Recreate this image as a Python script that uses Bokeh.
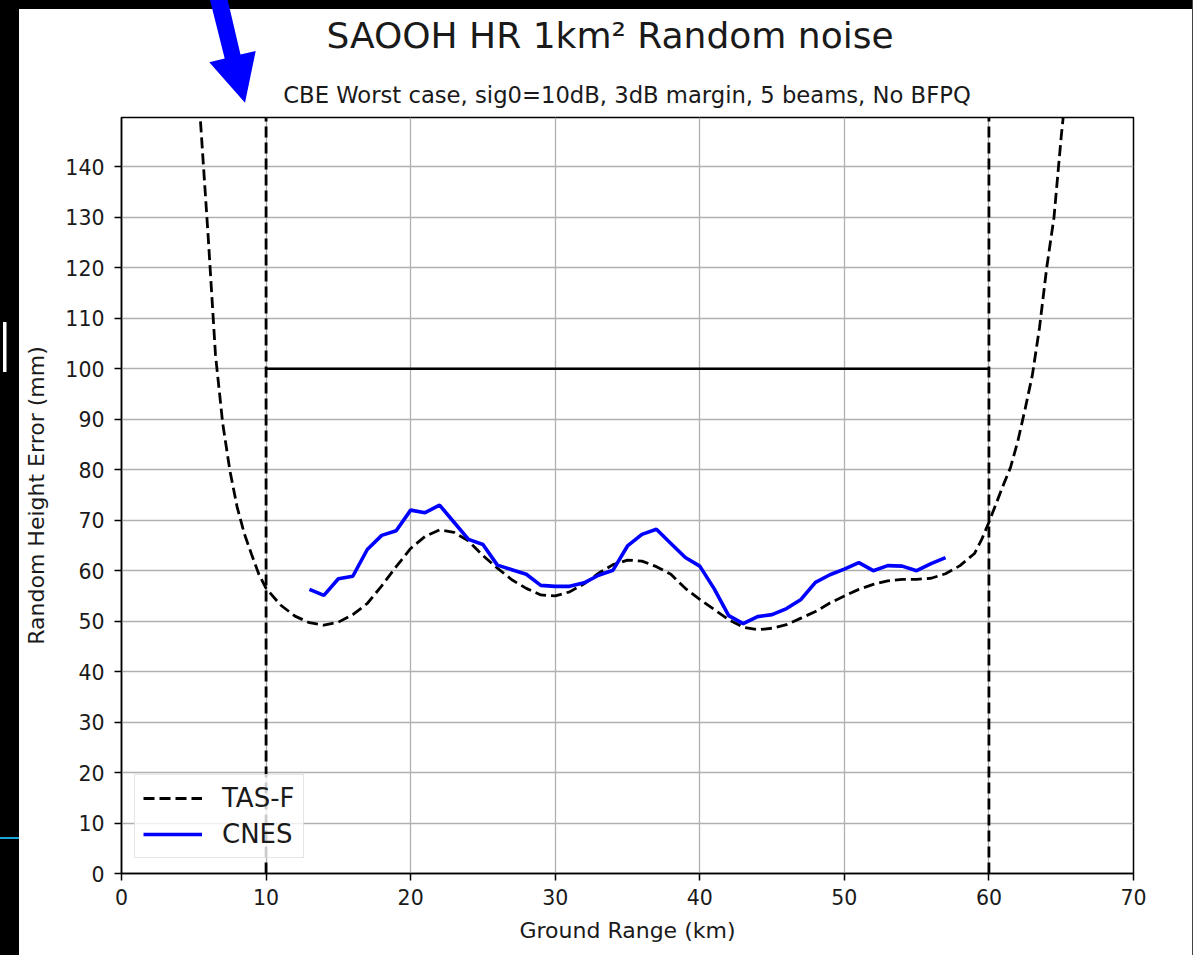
from bokeh.plotting import figure
from bokeh.layouts import column
from bokeh.models import Range1d, FixedTicker, Legend, LegendItem, Div
from bokeh.embed import file_html
from bokeh.resources import INLINE

# TAS-F random height error model (ground range in km, error in mm)
tas_range_km = [5.0, 5.5, 6.0, 6.5, 7.0, 7.5, 8.0, 8.5, 9.0, 9.5,
                10, 11, 12, 13, 14, 15, 16, 17, 18, 19,
                20, 21, 22, 23, 24, 25, 26, 27, 28, 29,
                30, 31, 32, 33, 34, 35, 36, 37, 38, 39,
                40, 41, 42, 43, 44, 45, 46, 47, 48, 49,
                50, 51, 52, 53, 54, 55, 56, 57, 58, 59,
                59.5, 60, 60.5, 61, 61.5, 62, 62.5, 63, 63.5, 64,
                64.5, 65, 65.5]
tas_error_mm = [168.0, 147.5, 126.0, 102.8, 89.2, 79.8, 72.6, 67.3, 63.2, 59.3,
                56.5, 53.2, 51.0, 49.7, 49.2, 49.8, 51.3, 53.5, 57.0, 60.8,
                64.4, 66.8, 68.1, 67.6, 65.9, 63.0, 60.5, 58.2, 56.5, 55.2,
                55.0, 55.8, 57.4, 59.5, 61.2, 62.1, 61.9, 60.8, 59.3, 56.5,
                54.3, 52.3, 50.3, 48.8, 48.3, 48.6, 49.3, 50.6, 51.9, 53.6,
                55.0, 56.3, 57.3, 58.0, 58.3, 58.3, 58.5, 59.4, 61.0, 63.4,
                66.2, 69.6, 73.3, 77.0, 80.5, 85.7, 92.0, 98.7, 108.2, 120.1,
                130.0, 146.0, 160.0]

# CNES simulation, one value per km
cnes_range_km = list(range(13, 58))
cnes_error_mm = [56.3, 55.1, 58.4, 58.9, 64.2, 67.0, 67.9, 72.0, 71.5, 73.0,
                 69.6, 66.2, 65.2, 61.1, 60.2, 59.3, 57.1, 56.9, 56.9, 57.6,
                 59.1, 60.1, 64.9, 67.2, 68.2, 65.4, 62.6, 60.9, 56.4, 51.1,
                 49.5, 50.9, 51.3, 52.5, 54.3, 57.7, 59.2, 60.3, 61.6, 60.0,
                 61.0, 60.9, 60.0, 61.4, 62.6]

swath_limits_km = [10, 60]
requirement_mm = 100
x_ticks = [0, 10, 20, 30, 40, 50, 60, 70]
y_ticks = [0, 10, 20, 30, 40, 50, 60, 70, 80, 90, 100, 110, 120, 130, 140]
y_max = 149.8

title_text = "SAOOH HR 1km\u00b2 Random noise"
subtitle_text = "CBE Worst case, sig0=10dB, 3dB margin, 5 beams, No BFPQ"

FONT = "DejaVu Sans"
W, H = 1193, 955
HEADER_H = 110      # height of the title band
LEFT_EDGE = 19      # dark slide margin on the left
RIGHT_EDGE = 1      # thin dark line on the right

# ---- header band: slide margins, pointer arrow, titles ----
arrow_pts = "210,0 227.7,0 240.5,54.6 255.7,51 245,102.7 209.3,62.3 224.7,58.5"
text_style = f"font-family:'{FONT}';font-weight:normal;fill:#1a1a1a"
header_svg = f"""
<svg xmlns="http://www.w3.org/2000/svg" width="{W}" height="{HEADER_H}"
     style="display:block">
  <rect x="0" y="0" width="{W}" height="{HEADER_H}" fill="white"/>
  <rect x="0" y="0" width="{W}" height="9" fill="black"/>
  <rect x="0" y="0" width="{LEFT_EDGE}" height="{HEADER_H}" fill="black"/>
  <rect x="{W - RIGHT_EDGE}" y="0" width="{RIGHT_EDGE}" height="{HEADER_H}" fill="#444444"/>
  <polygon points="{arrow_pts}" fill="#0000ff"/>
  <text x="610" y="48.3" text-anchor="middle"
        style="{text_style};font-size:36px">{title_text}</text>
  <text x="627" y="103" text-anchor="middle"
        style="{text_style};font-size:22.7px">{subtitle_text}</text>
</svg>
"""
header = Div(text=header_svg, width=W, height=HEADER_H, margin=0)

# ---- chart ----
chart_w = W - LEFT_EDGE - RIGHT_EDGE
chart_h = H - HEADER_H
p = figure(width=chart_w, height=chart_h, output_backend="svg",
           toolbar_location=None,
           x_range=Range1d(0, 70), y_range=Range1d(0, y_max),
           min_border_left=121 - LEFT_EDGE, min_border_right=W - RIGHT_EDGE - 1133,
           min_border_top=117 - HEADER_H, min_border_bottom=H - 873,
           background_fill_color="white", border_fill_color="white")
p.margin = (0, RIGHT_EDGE, 0, LEFT_EDGE)

p.outline_line_color = "black"
p.outline_line_width = 1.5

for ax in (p.xaxis[0], p.yaxis[0]):
    ax.axis_line_color = "black"
    ax.axis_line_width = 1.5
    ax.major_tick_line_color = "black"
    ax.major_tick_line_width = 1.5
    ax.major_tick_out = 7
    ax.major_tick_in = 0
    ax.minor_tick_line_color = None
    ax.major_label_text_font = FONT
    ax.major_label_text_font_size = "20.5px"
    ax.major_label_text_color = "#1a1a1a"
    ax.axis_label_text_font = FONT
    ax.axis_label_text_font_size = "22px"
    ax.axis_label_text_font_style = "normal"
    ax.axis_label_text_color = "#1a1a1a"

p.xaxis.ticker = FixedTicker(ticks=x_ticks)
p.yaxis.ticker = FixedTicker(ticks=y_ticks)
p.xaxis.axis_label = "Ground Range (km)"
p.yaxis.axis_label = "Random Height Error (mm)"
p.xaxis.major_label_standoff = 8
p.yaxis.major_label_standoff = 10
p.xaxis.axis_label_standoff = 10
p.yaxis.axis_label_standoff = 13

p.grid.grid_line_color = "#b0b0b0"
p.grid.grid_line_width = 1.3

# swath edges and requirement level
p.segment(x0=swath_limits_km, y0=[0, 0], x1=swath_limits_km, y1=[y_max, y_max],
          line_color="black", line_width=2.8, line_dash="11 5")
p.line(x=swath_limits_km, y=[requirement_mm, requirement_mm],
       line_color="black", line_width=2.5)

r_tas = p.line(x=tas_range_km, y=tas_error_mm, line_color="black",
               line_width=2.8, line_dash="11 5")
r_cnes = p.line(x=cnes_range_km, y=cnes_error_mm, line_color="blue",
                line_width=3.6)

legend = Legend(items=[LegendItem(label="TAS-F", renderers=[r_tas]),
                       LegendItem(label="CNES", renderers=[r_cnes])],
                location=(13, 15), margin=0, padding=8, spacing=6,
                glyph_width=59, glyph_height=30, label_height=30,
                label_standoff=20, label_text_font=FONT,
                label_text_font_size="26px", label_text_color="#1a1a1a",
                border_line_color="#cccccc", border_line_width=1.3,
                background_fill_color="white", background_fill_alpha=0.8)
p.add_layout(legend)

# page backdrop: dark slide edges with a couple of slide marks on the left
backdrop = ", ".join([
    "linear-gradient(#ffffff, #ffffff) 2.5px 322px / 3.5px 50px no-repeat",
    "linear-gradient(#1aa6d8, #1aa6d8) 0px 837px / 19px 2px no-repeat",
    f"linear-gradient(to right, black {LEFT_EDGE}px, white {LEFT_EDGE}px, "
    f"white {W - RIGHT_EDGE}px, #444444 {W - RIGHT_EDGE}px)",
])
layout = column(header, p, styles={"background": backdrop})

open("out.html", "w").write(file_html(layout, INLINE))
